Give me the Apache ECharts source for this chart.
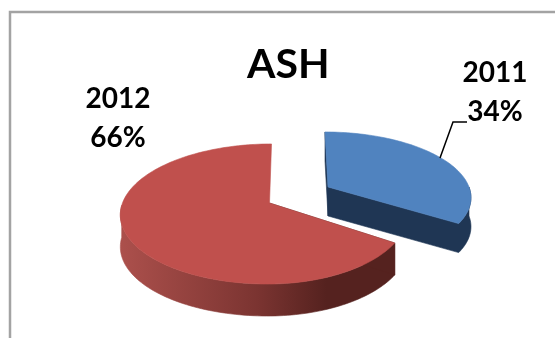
<!DOCTYPE html>
<html><head><meta charset="utf-8">
<style>html,body{margin:0;padding:0;background:#fff}#c{width:555px;height:338px}</style>
<script src="https://cdn.jsdelivr.net/npm/echarts@6/dist/echarts.min.js"></script>
</head><body><div id="c"></div>
<script>
const chartTitle = 'ASH';
const categories = ['2011', '2012'];
const shares = [34, 66];

const FONT = 'Lato, "Open Sans", sans-serif';
const views = [
  { ax: 328, ay: 187, rx: 141, ry: 63, k: 0.145, skew: -3, depth: 29, top: '#5083BF',
    wall: ['#1F3654', '#1F3654', '#1F3654'], label: [495, 92] },
  { ax: 269.5, ay: 203, rx: 147, rxR: 137, ry: 68.3, k: 0.157, skew: 2, depth: 32, top: '#C0504D',
    wall: ['#AC504C', '#7B3431', '#55221F'], label: [118, 118] }
];
const total = shares.reduce((a, b) => a + b, 0);

function project(v, deg) {
  const t = deg * Math.PI / 180, s = Math.sin(t), c = Math.cos(t), d = 1 + v.k * c;
  const r = s > 0 && v.rxR ? v.rxR : v.rx;
  return [v.ax + r * s / d + v.skew * c, v.ay - v.ry * c / d];
}
function arc(v, a, b, dy) {
  const pts = [], n = Math.max(4, Math.ceil(Math.abs(b - a) / 1.5));
  for (let i = 0; i <= n; i++) {
    const p = project(v, a + (b - a) * i / n);
    pts.push([p[0], p[1] + dy]);
  }
  return pts;
}
function poly(points, fill, z) {
  return { type: 'polygon', z2: z, shape: { points }, style: { fill, stroke: fill, lineWidth: 0.6 } };
}
function renderSlice(params, api) {
  const i = params.dataIndex, v = views[i];
  let before = 0;
  for (let j = 0; j < i; j++) before += shares[j];
  const a = before / total * 360, b = (before + api.value(0)) / total * 360;
  const kids = [];
  const apex = [v.ax, v.ay];
  const apexLow = [v.ax, v.ay + v.depth];
  const pa = project(v, a);

  const wa = Math.max(a, 90), wb = Math.min(b, 268);
  if (b < 180) {
    // the cut wall and the rim wall form one continuous dark shape
    kids.push(poly([apex].concat(arc(v, b, wa, 0), arc(v, wa, b, v.depth), [apexLow]), v.wall[2], 1));
  } else {
    const grad = {
      type: 'linear', x: 120, y: 0, x2: 395, y2: 0, global: true,
      colorStops: [{ offset: 0, color: v.wall[0] }, { offset: 0.5, color: v.wall[1] }, { offset: 0.75, color: v.wall[2] }, { offset: 1, color: v.wall[2] }]
    };
    kids.push({ type: 'polygon', z2: 1, shape: { points: arc(v, wa, wb, 0).concat(arc(v, wb, wa, v.depth)) }, style: { fill: grad, stroke: grad, lineWidth: 0.6 } });
  }
  kids.push(poly([apex, pa, [pa[0], pa[1] + v.depth], apexLow], v.wall[2], 1));
  kids.push(poly([apex].concat(arc(v, a, b, 0)), v.top, 3));
  kids.push({
    type: 'text', z2: 5, x: v.label[0], y: v.label[1],
    style: {
      text: categories[i] + '\n' + api.value(0) + '%', fill: '#000', align: 'center', verticalAlign: 'middle',
      font: 'bold 28px ' + FONT, lineHeight: 39
    }
  });
  return { type: 'group', children: kids };
}

const chart = echarts.init(document.getElementById('c'), null, { renderer: 'canvas' });
chart.setOption({
  animation: false,
  backgroundColor: '#fff',
  title: {
    text: chartTitle, left: 242, top: 39,
    textStyle: { fontFamily: FONT, fontWeight: 'bold', fontSize: 41, color: '#000' }
  },
  series: [{
    type: 'custom', coordinateSystem: 'none', renderItem: renderSlice,
    data: shares.map(s => [s]), silent: true
  }],
  graphic: [
    { type: 'polyline', shape: { points: [[10, 338], [10, 12], [555, 12]] }, style: { stroke: '#A3A3A3', lineWidth: 2.5, fill: null } },
    { type: 'polyline', z: 10, shape: { points: [[440, 158], [453, 122], [467, 122]] }, style: { stroke: '#000', lineWidth: 1.5, fill: null } }
  ]
});
</script></body></html>
